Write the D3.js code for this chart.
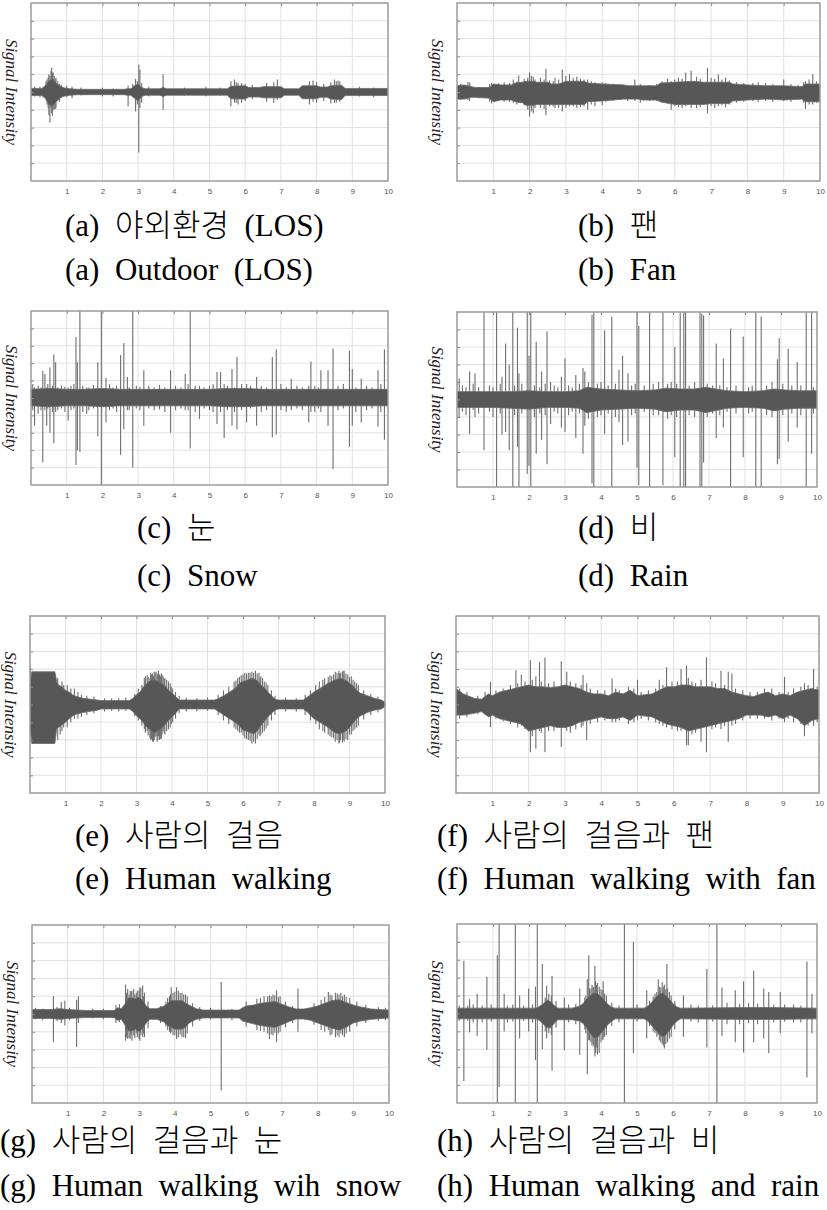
<!DOCTYPE html>
<html><head><meta charset="utf-8">
<script src="https://cdn.jsdelivr.net/npm/d3@7"></script>
<style>body{margin:0;background:#fff}svg{display:block}</style>
</head><body>
<script>
// ---------- tick labels ----------
const xTickValues = [1,2,3,4,5,6,7,8,9,10];
const xGridValues = [1,2,3,4,5,6,7,8,9];
const yGridValues = [-4,-3,-2,-1,0,1,2,3,4];
const yAxisTitle = "Signal Intensity";

// ---------- (a) Outdoor ----------
const aT  = [0,0.3,0.4,0.5,0.6,0.7,0.8,0.9,1.0,1.3,2.6,2.7,2.8,2.9,3.0,3.1,3.2,3.6,3.7,3.8,5.5,5.6,6.0,6.1,6.4,6.5,7.0,7.1,7.5,7.6,8.0,8.1,8.3,8.4,8.7,8.8,10];
const aHi = [0.2,0.2,0.35,0.6,0.75,0.5,0.35,0.25,0.2,0.15,0.15,0.18,0.18,0.35,0.45,0.25,0.18,0.18,0.25,0.18,0.18,0.32,0.35,0.25,0.25,0.3,0.3,0.18,0.18,0.35,0.35,0.28,0.28,0.35,0.38,0.2,0.2];
const aLo = [-0.2,-0.2,-0.35,-0.7,-0.8,-0.55,-0.35,-0.25,-0.2,-0.15,-0.15,-0.18,-0.18,-0.35,-0.5,-0.25,-0.18,-0.18,-0.25,-0.18,-0.18,-0.38,-0.4,-0.28,-0.28,-0.33,-0.33,-0.18,-0.18,-0.38,-0.38,-0.3,-0.3,-0.4,-0.42,-0.2,-0.2];
const aSpikes = [[0.1,0.3,-0.25],[0.25,0.3,-0.3],[0.42,0.6,-0.4],[0.45,0.7,-0.7],[0.48,0.8,-0.9],[0.5,1.0,-1.3],[0.53,0.9,-1.72],[0.56,1.2,-0.9],[0.58,1.36,-1.2],[0.6,1.1,-1.35],[0.62,1.1,-1.0],[0.65,0.9,-1.0],[0.68,0.75,-0.95],[0.7,0.8,-0.9],[0.75,0.6,-0.5],[0.8,0.45,-0.55],[0.85,0.4,-0.3],[1.0,0.35,-0.3],[1.15,0.3,-0.35],[1.4,0.25,-0.2],[2.0,0.25,-0.25],[2.3,0.2,-0.25],[2.72,0.35,-0.8],[2.85,0.45,-0.3],[2.93,0.75,-1.1],[2.98,0.6,-0.7],[3.02,1.55,-3.4],[3.05,1.27,-0.9],[3.1,0.5,-0.6],[3.3,0.3,-0.25],[3.7,1.0,-1.0],[4.3,0.25,-0.2],[4.9,0.3,-0.25],[5.3,0.25,-0.2],[5.6,0.6,-0.8],[5.7,0.7,-0.6],[5.75,0.55,-0.6],[5.8,0.5,-0.7],[5.9,0.5,-0.6],[6.0,0.45,-0.5],[6.2,0.4,-0.4],[6.6,0.5,-0.55],[6.8,0.55,-0.6],[6.9,0.7,-0.45],[7.8,0.6,-0.7],[7.9,0.65,-0.55],[8.0,0.55,-0.6],[8.2,0.45,-0.5],[8.4,0.55,-0.65],[8.5,0.7,-0.6],[8.55,0.6,-0.6],[8.6,0.65,-0.45],[8.65,0.6,-0.55],[9.2,0.3,-0.25],[9.6,0.25,-0.3]];

// ---------- (b) Fan ----------
const bT  = [0,0.2,0.4,0.5,0.9,1.0,1.2,1.5,1.6,1.8,1.9,2.1,2.2,2.5,2.6,2.8,3.0,3.5,3.6,4.0,4.6,4.7,5.0,5.1,5.5,5.6,6.0,6.5,6.8,7.0,7.5,7.6,8.0,8.5,9.0,9.5,9.6,10];
const bHi = [0.35,0.4,0.3,0.25,0.25,0.45,0.4,0.4,0.5,0.55,0.6,0.6,0.55,0.55,0.45,0.45,0.6,0.6,0.5,0.45,0.4,0.35,0.35,0.35,0.35,0.5,0.55,0.6,0.55,0.55,0.55,0.45,0.4,0.35,0.35,0.3,0.45,0.45];
const bLo = [-0.4,-0.4,-0.3,-0.3,-0.35,-0.55,-0.45,-0.45,-0.55,-0.6,-0.75,-0.75,-0.7,-0.7,-0.7,-0.7,-0.7,-0.7,-0.55,-0.5,-0.4,-0.4,-0.4,-0.45,-0.45,-0.55,-0.7,-0.7,-0.7,-0.65,-0.65,-0.5,-0.45,-0.4,-0.45,-0.4,-0.55,-0.55];
const bSpikes = [[0.1,0.45,-0.45],[0.3,0.56,-0.45],[0.35,0.55,-0.5],[0.6,0.3,-0.35],[0.9,0.45,-0.55],[0.95,0.5,-0.65],[1.15,0.5,-0.5],[1.3,0.55,-0.55],[1.45,0.5,-0.55],[1.55,0.7,-0.6],[1.65,0.6,-0.7],[1.7,0.93,-0.6],[1.85,0.75,-0.75],[1.95,0.8,-1.0],[2.0,1.1,-1.37],[2.05,0.9,-1.1],[2.1,0.85,-1.2],[2.15,0.7,-0.9],[2.3,0.8,-0.9],[2.4,0.7,-0.95],[2.45,1.3,-1.3],[2.55,0.65,-0.8],[2.65,0.6,-0.8],[2.7,0.8,-0.9],[2.8,0.7,-0.9],[2.9,1.27,-1.1],[3.0,0.9,-0.9],[3.1,1.0,-0.8],[3.2,0.8,-0.8],[3.3,0.85,-0.9],[3.4,0.75,-0.85],[3.5,0.7,-0.8],[3.6,0.7,-1.0],[3.7,0.6,-0.7],[3.8,0.55,-0.8],[4.0,0.55,-0.75],[4.1,0.5,-0.55],[4.3,0.45,-0.5],[4.5,0.45,-0.45],[4.7,0.4,-0.5],[4.9,0.7,-0.5],[5.05,0.45,-0.6],[5.3,0.4,-0.5],[5.5,0.45,-0.5],[5.65,0.6,-0.6],[5.8,0.75,-0.65],[5.9,0.6,-1.0],[6.0,0.7,-0.8],[6.1,0.8,-0.85],[6.2,0.75,-0.9],[6.3,1.1,-0.8],[6.45,1.2,-0.9],[6.6,0.85,-0.9],[6.7,0.75,-0.85],[6.9,1.35,-1.2],[7.0,0.8,-0.8],[7.1,0.75,-0.9],[7.2,1.0,-0.8],[7.3,0.7,-0.75],[7.4,0.8,-0.85],[7.5,0.65,-0.7],[7.7,0.55,-0.6],[7.9,0.5,-0.55],[8.15,0.5,-0.5],[8.3,0.55,-0.55],[8.5,0.5,-0.5],[8.7,0.45,-0.55],[9.0,0.7,-0.5],[9.2,0.45,-0.55],[9.4,0.4,-0.45],[9.55,0.55,-0.6],[9.6,0.6,-0.95],[9.7,0.7,-0.7],[9.8,1.0,-0.7],[9.9,0.6,-0.6]];

// ---------- (c) Snow ----------
const cT  = [0,0.5,1,1.5,2,2.5,3,3.5,4,4.5,5,5.5,6,6.5,7,7.5,8,8.5,9,9.5,10];
const cHi = [0.5,0.55,0.5,0.5,0.55,0.5,0.5,0.5,0.5,0.5,0.5,0.55,0.55,0.5,0.5,0.5,0.5,0.5,0.5,0.5,0.5];
const cLo = [-0.45,-0.5,-0.45,-0.45,-0.5,-0.45,-0.45,-0.45,-0.45,-0.45,-0.45,-0.5,-0.5,-0.45,-0.45,-0.45,-0.45,-0.45,-0.45,-0.45,-0.45];
const cSpikes = [[0.05,0.8,-0.7],[0.1,0.6,-1.6],[0.2,0.7,-0.9],[0.28,0.6,-0.7],[0.33,1.57,-3.7],[0.39,1.38,-0.7],[0.44,0.6,-1.6],[0.47,0.8,-0.6],[0.53,1.76,-2.0],[0.6,0.7,-0.8],[0.64,2.5,-2.6],[0.69,2.05,-0.8],[0.75,0.6,-0.7],[0.85,0.7,-0.6],[0.95,0.65,-0.8],[1.04,0.6,-1.3],[1.12,0.7,-0.7],[1.2,0.8,-0.6],[1.26,3.5,-3.85],[1.3,2.05,-3.0],[1.37,5.0,-3.1],[1.45,0.7,-0.8],[1.56,0.6,-0.9],[1.62,0.6,-0.7],[1.75,0.75,-0.6],[1.87,2.05,-2.2],[1.97,5.0,-5.0],[2.1,1.15,-1.4],[2.2,0.8,-0.7],[2.3,0.6,-0.6],[2.4,0.7,-0.8],[2.51,2.47,-3.26],[2.6,3.16,-1.8],[2.7,1.2,-0.7],[2.75,0.6,-0.7],[2.85,5.0,-4.0],[2.95,0.7,-0.6],[3.05,0.65,-0.7],[3.16,1.6,-1.6],[3.3,0.7,-0.6],[3.45,0.6,-0.7],[3.6,0.75,-0.65],[3.75,0.6,-0.8],[3.91,1.6,-2.0],[4.05,0.7,-0.7],[4.2,0.6,-0.6],[4.32,1.38,-0.7],[4.4,0.8,-0.7],[4.46,5.0,-2.9],[4.6,0.7,-0.8],[4.72,0.7,-1.2],[4.85,0.6,-0.6],[5.0,0.7,-0.7],[5.1,0.8,-0.8],[5.21,1.5,-1.5],[5.31,1.5,-0.8],[5.41,0.8,-2.3],[5.5,0.7,-0.7],[5.63,1.66,-1.6],[5.7,0.6,-0.8],[5.77,2.36,-1.8],[5.9,0.8,-0.7],[6.04,0.8,-1.4],[6.15,0.7,-0.6],[6.32,1.2,-1.6],[6.45,0.7,-0.8],[6.6,0.6,-0.7],[6.76,2.36,-2.26],[6.87,2.8,-2.1],[7.0,0.8,-0.7],[7.15,0.6,-0.8],[7.29,1.1,-0.7],[7.45,0.7,-0.6],[7.6,0.6,-0.7],[7.78,0.7,-1.4],[7.84,2.1,-0.8],[7.95,0.7,-0.8],[8.05,0.6,-0.6],[8.12,1.6,-0.8],[8.32,1.6,-1.6],[8.46,2.85,-4.1],[8.6,0.7,-0.7],[8.75,0.8,-0.6],[8.92,2.7,-2.8],[9.0,1.66,-1.6],[9.1,0.6,-0.8],[9.25,1.1,-1.4],[9.4,0.7,-0.7],[9.55,0.6,-0.6],[9.72,1.6,-1.65],[9.8,0.8,-0.8],[9.9,2.8,-2.4]];

// ---------- (d) Rain ----------
const dT  = [0,0.5,1,1.5,2,2.5,3,3.4,3.6,4,4.5,5,5.5,5.8,6.2,6.6,6.9,7.5,8,8.5,8.8,9.1,9.5,10];
const dHi = [0.45,0.45,0.45,0.45,0.5,0.45,0.45,0.5,0.7,0.6,0.55,0.5,0.55,0.65,0.6,0.6,0.7,0.5,0.45,0.5,0.6,0.55,0.5,0.5];
const dLo = [-0.45,-0.45,-0.45,-0.5,-0.55,-0.45,-0.45,-0.5,-0.75,-0.6,-0.55,-0.5,-0.55,-0.7,-0.6,-0.6,-0.75,-0.5,-0.45,-0.5,-0.65,-0.55,-0.5,-0.5];
const dSpikes = [[0.06,1.2,-1.0],[0.15,0.8,-0.7],[0.25,0.7,-0.9],[0.35,1.6,-1.95],[0.45,0.9,-0.6],[0.5,1.5,-1.0],[0.6,0.7,-0.8],[0.75,5,-2.9],[0.9,0.8,-0.7],[1.0,0.7,-1.0],[1.1,5,-5],[1.2,0.9,-0.8],[1.25,1.3,-2.0],[1.35,3.2,-1.85],[1.45,2,-2.9],[1.55,5,-5],[1.6,0.8,-0.9],[1.68,4.1,-2.7],[1.72,1.5,-5],[1.8,0.9,-0.8],[1.95,5,-4.25],[2.0,2.5,-3.8],[2.05,5,-5],[2.15,0.8,-1.0],[2.2,3.3,-3.1],[2.3,0.7,-0.8],[2.35,1.6,-2.3],[2.45,0.9,-0.9],[2.5,3.9,-3.7],[2.6,1.0,-1.4],[2.7,0.8,-0.7],[2.8,0.7,-0.8],[2.9,1.3,-1.6],[3.0,2.35,-1.85],[3.1,0.8,-0.9],[3.2,0.7,-0.7],[3.3,1.4,-2.2],[3.4,0.9,-0.8],[3.5,1.8,-3.1],[3.55,1.6,-1.5],[3.65,1.0,-1.1],[3.75,4.85,-4.8],[3.8,5,-5],[3.9,0.9,-1.0],[4.0,1.0,-0.9],[4.1,3.95,-1.95],[4.2,0.8,-0.8],[4.3,4.75,-5],[4.4,0.9,-1.0],[4.5,1.7,-1.3],[4.6,2.5,-2.6],[4.75,1.5,-2.4],[4.85,0.8,-0.9],[4.95,0.9,-0.8],[5.0,5,-3.9],[5.05,4.2,-4.9],[5.2,0.8,-0.7],[5.35,5,-5],[5.45,0.9,-0.9],[5.6,1.0,-0.9],[5.72,5,-4.9],[5.85,0.9,-1.1],[5.95,1.0,-0.9],[6.05,3.0,-3.3],[6.1,0.9,-1.0],[6.2,5,-5],[6.3,5,-5],[6.35,5,-5],[6.45,0.8,-0.9],[6.6,1.0,-1.0],[6.75,5,-5],[6.8,4.9,-5],[6.85,4.8,-3.6],[6.95,0.9,-1.0],[7.1,0.8,-0.8],[7.2,3.2,-2.2],[7.3,0.8,-0.9],[7.4,2.35,-1.6],[7.5,0.7,-0.7],[7.6,4.05,-5],[7.75,0.8,-0.8],[7.95,3.6,-3.3],[8.1,0.7,-0.8],[8.2,0.8,-0.7],[8.3,5,-5],[8.45,4.75,-5],[8.6,0.8,-0.9],[8.75,1.0,-1.0],[8.9,2.3,-3.7],[8.95,3.5,-3.4],[9.05,0.9,-0.9],[9.2,2.9,-2.4],[9.3,0.8,-0.8],[9.45,2.15,-1.6],[9.55,0.8,-0.9],[9.7,5,-5],[9.85,5,-3.1],[9.9,0.7,-0.8]];

// ---------- (e) Human walking ----------
const eT  = [0,0.05,0.7,0.75,0.8,0.9,1.0,1.1,1.2,1.3,1.5,1.7,1.9,2.0,2.8,2.9,3.0,3.1,3.2,3.3,3.4,3.5,3.6,3.7,3.8,3.9,4.0,4.1,4.2,5.2,5.3,5.5,5.7,5.8,5.9,6.0,6.1,6.2,6.3,6.4,6.5,6.6,6.7,6.8,6.9,7.0,7.7,7.8,8.0,8.2,8.4,8.5,8.6,8.7,8.8,8.9,9.0,9.1,9.2,9.3,9.5,9.7,9.9,10];
const eHi = [1.2,1.85,1.85,1.3,1.1,1.0,0.8,0.7,0.55,0.45,0.35,0.3,0.25,0.22,0.22,0.35,0.55,0.7,1.0,1.2,1.35,1.4,1.3,1.2,1.05,0.8,0.65,0.45,0.25,0.25,0.32,0.55,0.8,0.95,1.2,1.3,1.35,1.45,1.45,1.35,1.1,0.95,0.7,0.5,0.3,0.25,0.25,0.4,0.7,0.95,1.2,1.3,1.4,1.45,1.45,1.35,1.2,1.05,0.8,0.65,0.5,0.35,0.25,0.12];
const eLo = [-1.2,-2.2,-2.2,-1.35,-1.3,-1.15,-1.0,-0.8,-0.65,-0.55,-0.45,-0.38,-0.32,-0.25,-0.25,-0.4,-0.65,-0.8,-1.05,-1.3,-1.45,-1.6,-1.5,-1.35,-1.15,-0.9,-0.7,-0.5,-0.25,-0.25,-0.38,-0.65,-0.9,-1.05,-1.2,-1.45,-1.5,-1.6,-1.65,-1.5,-1.2,-0.95,-0.7,-0.5,-0.32,-0.25,-0.25,-0.4,-0.8,-1.05,-1.3,-1.45,-1.6,-1.65,-1.6,-1.5,-1.3,-1.05,-0.8,-0.65,-0.45,-0.32,-0.25,-0.12];
const eSpikes = [[0.01,2.13,-1.26],[0.72,1.6,-1.8],[0.78,1.5,-2.0],[0.85,1.0,-1.7],[0.9,1.3,-1.5],[0.95,1.1,-1.3],[1.05,1.1,-1.3],[1.15,0.9,-1.0],[1.25,0.9,-0.8],[1.35,0.7,-0.8],[1.45,0.55,-0.7],[1.6,0.5,-0.6],[1.8,0.45,-0.5],[2.1,0.35,-0.4],[2.3,0.35,-0.35],[2.5,0.35,-0.4],[2.7,0.4,-0.35],[2.95,0.6,-0.65],[3.05,0.9,-0.9],[3.15,1.1,-1.2],[3.22,1.5,-1.4],[3.25,1.6,-1.6],[3.3,1.65,-1.5],[3.33,1.55,-1.75],[3.38,1.5,-1.9],[3.4,1.8,-2.0],[3.42,1.7,-1.95],[3.45,1.75,-2.1],[3.48,1.6,-2.1],[3.5,1.85,-2.0],[3.52,1.8,-1.85],[3.55,1.85,-1.8],[3.58,1.7,-2.1],[3.6,1.75,-2.0],[3.62,1.9,-1.8],[3.65,1.7,-2.0],[3.68,1.6,-1.95],[3.7,1.75,-1.9],[3.72,1.7,-1.7],[3.75,1.6,-1.5],[3.78,1.45,-1.6],[3.8,1.5,-1.7],[3.85,1.4,-1.5],[3.9,1.3,-1.4],[3.95,1.2,-1.3],[3.98,1.0,-1.1],[4.02,0.9,-1.0],[4.1,0.7,-0.8],[4.2,0.5,-0.5],[4.4,0.4,-0.4],[4.7,0.35,-0.4],[5.0,0.4,-0.35],[5.3,0.55,-0.6],[5.45,0.8,-0.9],[5.6,1.0,-1.1],[5.75,1.3,-1.3],[5.8,1.35,-1.4],[5.85,1.5,-1.5],[5.9,1.55,-1.6],[5.95,1.65,-1.6],[6.0,1.7,-1.75],[6.05,1.8,-1.9],[6.1,1.75,-1.95],[6.15,1.8,-2.0],[6.2,1.8,-2.05],[6.25,1.85,-2.2],[6.3,1.8,-2.1],[6.35,1.9,-2.2],[6.4,1.75,-1.95],[6.45,1.8,-1.7],[6.48,1.5,-1.8],[6.5,1.6,-1.7],[6.55,1.5,-1.6],[6.6,1.3,-1.5],[6.65,1.25,-1.35],[6.7,1.1,-1.2],[6.8,0.8,-0.9],[6.9,0.5,-0.6],[7.2,0.4,-0.4],[7.5,0.35,-0.4],[7.75,0.55,-0.6],[7.9,0.8,-0.9],[8.05,1.1,-1.1],[8.15,1.3,-1.4],[8.25,1.4,-1.5],[8.3,1.5,-1.6],[8.4,1.55,-1.7],[8.45,1.65,-1.8],[8.5,1.6,-1.85],[8.55,1.7,-1.9],[8.6,1.85,-2.1],[8.65,1.8,-2.0],[8.7,1.9,-2.2],[8.72,1.75,-2.15],[8.75,1.8,-2.0],[8.8,1.85,-2.15],[8.82,1.9,-2.0],[8.85,1.9,-2.1],[8.9,1.75,-1.95],[8.95,1.7,-2.0],[9.0,1.55,-1.7],[9.05,1.6,-1.7],[9.1,1.4,-1.5],[9.15,1.3,-1.4],[9.2,1.2,-1.3],[9.25,1.1,-1.2],[9.4,0.8,-0.85],[9.6,0.6,-0.6],[9.8,0.45,-0.45]];

// ---------- (f) Human walking with fan ----------
const fT  = [0,0.2,0.5,0.7,0.9,1.0,1.2,1.4,1.6,1.8,2.0,2.2,2.4,2.6,2.8,3.0,3.2,3.4,3.6,3.8,4.0,4.2,4.4,4.6,4.8,5.0,5.2,5.4,5.6,5.8,6.0,6.2,6.4,6.6,6.8,7.0,7.2,7.4,7.6,7.8,8.0,8.2,8.4,8.6,8.8,9.0,9.2,9.4,9.6,9.8,10];
const fHi = [0.9,0.6,0.35,0.3,0.6,0.5,0.7,0.8,0.9,1.0,1.1,1.0,1.0,0.95,1.0,1.1,1.0,0.9,0.7,0.6,0.6,0.5,0.7,0.6,0.8,0.5,0.55,0.6,0.8,1.0,1.0,1.1,1.1,1.0,1.0,1.0,0.9,0.9,0.7,0.6,0.5,0.45,0.6,0.7,0.5,0.6,0.5,0.7,0.8,0.9,0.8];
const fLo = [-0.6,-0.6,-0.5,-0.4,-0.7,-0.6,-0.8,-0.9,-1.0,-1.1,-1.5,-1.4,-1.3,-1.2,-1.3,-1.3,-1.2,-1.0,-0.9,-0.8,-0.7,-0.8,-0.8,-0.7,-0.9,-0.6,-0.65,-0.7,-0.9,-1.1,-1.2,-1.3,-1.5,-1.4,-1.3,-1.2,-1.1,-1.0,-0.9,-0.8,-0.6,-0.6,-0.6,-0.7,-0.6,-0.8,-0.6,-0.8,-1.2,-0.9,-0.8];
const fSpikes = [[0.1,0.9,-0.8],[0.3,0.7,-0.7],[0.6,0.5,-0.55],[0.8,0.7,-0.6],[0.95,1.28,-1.27],[1.1,0.8,-0.8],[1.3,0.9,-0.95],[1.5,1.1,-1.1],[1.65,1.94,-1.0],[1.7,1.2,-1.3],[1.8,1.7,-1.2],[1.9,1.3,-1.4],[2.05,2.5,-2.7],[2.1,1.4,-1.8],[2.2,1.6,-2.5],[2.3,2.4,-1.5],[2.35,1.3,-1.6],[2.45,2.66,-2.7],[2.55,1.2,-1.5],[2.7,1.3,-1.5],[2.9,2.45,-2.4],[3.05,1.85,-1.5],[3.15,1.3,-1.6],[3.3,1.2,-1.4],[3.45,1.1,-1.3],[3.5,1.66,-1.2],[3.6,1.2,-2.0],[3.7,0.9,-1.1],[3.9,0.8,-1.0],[4.1,0.8,-0.9],[4.3,1.47,-1.0],[4.4,0.9,-1.0],[4.5,0.8,-0.9],[4.75,1.0,-1.1],[4.9,0.9,-1.0],[5.0,1.4,-0.9],[5.1,0.7,-0.8],[5.3,0.8,-0.9],[5.5,0.9,-1.0],[5.6,1.4,-1.1],[5.7,1.1,-1.2],[5.8,2.1,-1.3],[5.95,1.3,-1.4],[6.1,1.3,-1.5],[6.2,2.0,-1.5],[6.35,2.2,-2.3],[6.4,1.5,-2.3],[6.5,1.3,-1.7],[6.6,1.2,-1.6],[6.75,1.4,-2.1],[6.9,2.66,-2.7],[7.05,1.3,-1.4],[7.15,1.2,-1.3],[7.3,1.9,-1.4],[7.4,1.1,-1.2],[7.5,1.85,-2.1],[7.6,1.75,-1.2],[7.7,0.9,-1.1],[7.9,0.8,-0.9],[8.1,0.7,-0.8],[8.3,0.7,-0.8],[8.5,0.9,-0.8],[8.7,0.9,-0.9],[8.9,0.7,-0.8],[9.05,1.55,-1.0],[9.15,0.7,-0.8],[9.3,0.9,-1.0],[9.5,1.0,-1.1],[9.6,1.2,-1.8],[9.7,1.1,-1.2],[9.85,2.0,-1.2],[9.95,1.0,-1.0]];

// ---------- (g) Human walking with snow ----------
const gT  = [0,0.5,0.8,1.0,1.5,2.3,2.4,2.5,2.6,2.7,2.8,2.9,3.0,3.1,3.2,3.3,3.5,3.7,3.8,3.9,4.0,4.2,4.3,4.4,4.6,4.8,5.8,5.9,6.0,6.2,6.4,6.6,6.8,7.0,7.2,7.4,7.6,7.8,8.0,8.2,8.4,8.6,8.8,9.0,9.2,9.5,10];
const gHi = [0.25,0.25,0.3,0.25,0.2,0.2,0.35,0.3,0.55,0.9,0.9,0.85,0.95,0.75,0.45,0.3,0.3,0.45,0.6,0.75,0.75,0.75,0.6,0.5,0.3,0.22,0.22,0.35,0.45,0.5,0.6,0.65,0.7,0.55,0.4,0.28,0.28,0.35,0.45,0.6,0.75,0.8,0.65,0.5,0.4,0.28,0.22];
const gLo = [-0.25,-0.25,-0.3,-0.25,-0.2,-0.2,-0.35,-0.3,-0.6,-0.95,-0.95,-0.85,-1.0,-0.8,-0.5,-0.3,-0.3,-0.45,-0.65,-0.75,-0.85,-0.85,-0.75,-0.5,-0.3,-0.22,-0.22,-0.4,-0.45,-0.55,-0.65,-0.7,-0.75,-0.6,-0.42,-0.28,-0.28,-0.35,-0.5,-0.65,-0.8,-0.9,-0.75,-0.5,-0.4,-0.3,-0.22];
const gSpikes = [[0.1,0.35,-0.3],[0.3,0.3,-0.35],[0.6,1.0,-1.58],[0.7,0.4,-0.4],[0.82,0.67,-0.5],[0.92,0.75,-0.65],[1.05,0.35,-0.35],[1.25,0.8,-1.85],[1.3,1.0,-0.5],[1.7,0.3,-0.25],[2.0,0.3,-0.3],[2.35,0.5,-0.5],[2.45,0.55,-0.45],[2.62,1.65,-1.5],[2.65,1.2,-1.3],[2.68,1.4,-1.4],[2.72,1.1,-1.35],[2.75,1.3,-1.4],[2.78,1.25,-1.2],[2.8,1.3,-1.5],[2.85,1.4,-1.2],[2.88,1.1,-1.35],[2.92,1.2,-1.1],[2.95,1.3,-1.3],[3.0,1.3,-1.4],[3.02,1.5,-1.5],[3.05,1.45,-1.2],[3.1,1.6,-1.3],[3.12,1.0,-1.1],[3.15,1.2,-1.3],[3.25,0.7,-0.8],[3.6,0.45,-0.5],[3.75,0.7,-0.7],[3.8,0.9,-0.9],[3.85,1.0,-1.0],[3.88,1.1,-1.1],[3.9,1.5,-1.0],[3.95,1.2,-1.2],[4.0,1.25,-1.2],[4.05,1.5,-1.4],[4.1,1.3,-1.3],[4.15,1.2,-1.15],[4.2,1.2,-1.3],[4.25,1.1,-1.3],[4.3,1.1,-1.35],[4.35,1.0,-1.1],[4.5,0.6,-0.7],[4.7,0.4,-0.4],[5.0,0.35,-0.3],[5.3,1.8,-4.3],[5.6,0.3,-0.35],[6.0,0.7,-0.7],[6.3,0.85,-0.9],[6.4,0.9,-0.95],[6.5,1.0,-1.0],[6.6,1.0,-1.1],[6.65,1.05,-1.4],[6.7,1.0,-1.15],[6.75,1.1,-1.2],[6.8,1.05,-1.05],[6.85,1.33,-1.58],[6.9,0.95,-1.1],[6.95,1.0,-1.0],[7.1,0.7,-0.75],[7.3,0.45,-0.5],[7.45,1.43,-1.0],[7.9,0.6,-0.6],[8.1,0.8,-0.9],[8.2,0.95,-1.0],[8.3,1.24,-0.9],[8.35,1.1,-1.2],[8.4,1.05,-1.15],[8.5,1.2,-1.3],[8.55,1.15,-1.2],[8.6,1.1,-1.3],[8.65,1.2,-1.1],[8.7,1.0,-1.2],[8.75,1.1,-1.3],[8.8,0.95,-1.1],[8.9,0.9,-1.0],[9.1,0.7,-0.7],[9.35,0.5,-0.5],[9.7,0.4,-0.4],[9.9,0.35,-0.35]];

// ---------- (h) Human walking and rain ----------
const hT  = [0,2.2,2.3,2.4,2.5,2.6,2.7,2.8,3.2,3.4,3.5,3.6,3.7,3.8,3.9,4.0,4.1,4.2,4.3,4.4,5.2,5.3,5.4,5.5,5.6,5.7,5.8,5.9,6.0,6.1,6.2,8.0,8.8,10];
const hHi = [0.3,0.3,0.4,0.55,0.75,0.65,0.45,0.3,0.3,0.4,0.55,0.8,1.0,1.15,1.1,0.95,0.7,0.5,0.35,0.3,0.3,0.4,0.6,0.85,1.05,1.15,1.0,0.8,0.55,0.38,0.3,0.33,0.33,0.3];
const hLo = [-0.3,-0.3,-0.4,-0.6,-0.8,-0.8,-0.55,-0.35,-0.35,-0.42,-0.55,-0.8,-1.1,-1.35,-1.35,-1.1,-0.85,-0.6,-0.42,-0.3,-0.3,-0.42,-0.65,-0.9,-1.1,-1.3,-1.2,-0.95,-0.65,-0.45,-0.3,-0.33,-0.33,-0.3];
const hSpikes = [[0.06,0.43,-0.4],[0.19,2.95,-3.77],[0.3,0.45,-0.4],[0.35,0.8,-1.06],[0.45,0.5,-0.5],[0.56,1.1,-1.25],[0.7,0.45,-0.5],[0.83,2.05,-2.03],[0.95,0.5,-0.45],[1.12,3.26,-5],[1.17,5,-4.1],[1.31,1.1,-1.0],[1.4,0.45,-0.5],[1.55,0.5,-0.45],[1.62,5,-5],[1.74,1.0,-1.4],[1.85,0.45,-0.4],[1.99,1.4,-1.0],[2.1,0.5,-0.5],[2.18,1.5,-2.6],[2.23,5,-5],[2.37,2.76,-2.0],[2.45,0.9,-1.0],[2.49,1.55,-1.4],[2.55,1.1,-1.1],[2.62,1.0,-1.2],[2.64,2.1,-3.2],[2.75,0.7,-0.8],[2.98,0.9,-2.05],[3.1,0.5,-0.5],[3.3,0.55,-0.6],[3.41,1.4,-2.3],[3.55,0.9,-0.9],[3.58,1.0,-1.1],[3.62,1.92,-3.4],[3.66,3.26,-1.5],[3.68,1.4,-1.5],[3.72,1.4,-1.6],[3.75,1.6,-1.8],[3.78,1.5,-1.7],[3.8,1.45,-1.85],[3.83,2.67,-2.4],[3.85,1.8,-2.2],[3.88,1.6,-1.9],[3.9,1.7,-2.3],[3.95,1.5,-2.2],[4.0,1.35,-1.6],[4.05,1.3,-1.5],[4.06,1.8,-1.4],[4.1,1.1,-1.3],[4.15,1.0,-1.2],[4.3,0.6,-0.7],[4.5,0.45,-0.5],[4.65,5,-5],[4.9,4.0,-2.2],[5.0,0.5,-0.45],[5.27,1.3,-1.4],[5.35,0.7,-0.7],[5.45,0.95,-1.0],[5.5,1.1,-1.1],[5.55,1.2,-1.3],[5.59,1.92,-1.2],[5.62,1.5,-1.5],[5.66,1.45,-1.6],[5.7,1.75,-1.7],[5.73,1.5,-1.8],[5.76,1.6,-1.95],[5.8,1.35,-1.7],[5.83,2.76,-1.1],[5.85,1.4,-1.6],[5.9,1.2,-1.4],[5.95,1.0,-1.3],[6.05,0.7,-0.9],[6.29,1.0,-1.3],[6.5,0.5,-0.45],[6.7,0.45,-0.5],[6.94,2.48,-1.9],[7.1,0.45,-0.45],[7.22,5,-5],[7.36,1.45,-1.25],[7.5,0.6,-0.6],[7.73,1.3,-1.6],[7.85,0.55,-0.6],[7.96,1.8,-2.18],[8.1,0.6,-0.55],[8.24,2.39,-1.6],[8.35,0.55,-0.6],[8.52,1.4,-1.4],[8.66,1.2,-2.2],[8.8,0.5,-0.5],[8.98,1.2,-1.1],[9.1,0.5,-0.45],[9.35,0.5,-0.5],[9.55,0.45,-0.5],[9.72,2.9,-3.58],[9.86,1.1,-1.1]];

// ---------- captions ----------
const captionsKo = ["(a)  야외환경  (LOS)","(b)  팬","(c)  눈","(d)  비","(e)  사람의  걸음","(f)  사람의  걸음과  팬","(g)  사람의  걸음과  눈","(h)  사람의  걸음과  비"];
const captionsEn = ["(a)  Outdoor  (LOS)","(b)  Fan","(c)  Snow","(d)  Rain","(e)  Human  walking","(f)  Human  walking  with  fan","(g)  Human  walking  wih  snow","(h)  Human  walking  and  rain"];

// ---------- layout (positions only) ----------
const layout = [
  {x0:31, x1:388, y0:3,   y1:181,  cx:65,  cy1:236,  cy2:280},
  {x0:457,x1:820, y0:3,   y1:181,  cx:578, cy1:236,  cy2:280},
  {x0:31, x1:388, y0:311, y1:485,  cx:137, cy1:538,  cy2:586},
  {x0:457,x1:817, y0:312, y1:487,  cx:578, cy1:538,  cy2:586},
  {x0:30, x1:385, y0:616, y1:793,  cx:75,  cy1:846,  cy2:889},
  {x0:456,x1:819, y0:616, y1:793,  cx:437, cy1:846,  cy2:889},
  {x0:32, x1:389, y0:925, y1:1103, cx:0,   cy1:1151, cy2:1196},
  {x0:457,x1:817, y0:924, y1:1103, cx:437, cy1:1151, cy2:1196}
];
const series = [
  {T:aT,Hi:aHi,Lo:aLo,S:aSpikes},{T:bT,Hi:bHi,Lo:bLo,S:bSpikes},
  {T:cT,Hi:cHi,Lo:cLo,S:cSpikes},{T:dT,Hi:dHi,Lo:dLo,S:dSpikes},
  {T:eT,Hi:eHi,Lo:eLo,S:eSpikes},{T:fT,Hi:fHi,Lo:fLo,S:fSpikes},
  {T:gT,Hi:gHi,Lo:gLo,S:gSpikes},{T:hT,Hi:hHi,Lo:hLo,S:hSpikes}
];

const svg = d3.select("body").append("svg").attr("width",827).attr("height",1210);
const defs = svg.append("defs");

layout.forEach((L,i)=>{
  const s = series[i];
  const x = d3.scaleLinear().domain([0,10]).range([L.x0,L.x1]);
  const y = d3.scaleLinear().domain([-5,5]).range([L.y1,L.y0]);
  const g = svg.append("g");
  defs.append("clipPath").attr("id","clip"+i).append("rect")
    .attr("x",L.x0).attr("y",L.y0).attr("width",L.x1-L.x0).attr("height",L.y1-L.y0);

  // grid
  g.selectAll(".vg").data(xGridValues).join("line")
    .attr("x1",d=>x(d)).attr("x2",d=>x(d)).attr("y1",L.y0).attr("y2",L.y1)
    .attr("stroke","#e2e2e2").attr("stroke-width",1);
  g.selectAll(".hg").data(yGridValues).join("line")
    .attr("x1",L.x0).attr("x2",L.x1).attr("y1",d=>y(d)).attr("y2",d=>y(d))
    .attr("stroke","#e2e2e2").attr("stroke-width",1);

  const plot = g.append("g").attr("clip-path","url(#clip"+i+")");
  // spikes
  plot.selectAll("line.sp").data(s.S).join("line")
    .attr("x1",d=>x(d[0])).attr("x2",d=>x(d[0]))
    .attr("y1",d=>y(d[1])).attr("y2",d=>y(d[2]))
    .attr("stroke","#6e6e6e").attr("stroke-width",1.1);
  // envelope (dense core)
  const env = s.T.map((t,k)=>({t:t,hi:s.Hi[k],lo:s.Lo[k]}));
  plot.append("path").datum(env)
    .attr("d", d3.area().x(d=>x(d.t)).y0(d=>y(d.lo)).y1(d=>y(d.hi)))
    .attr("fill","#575757").attr("stroke","#6a6a6a").attr("stroke-width",0.8);

  // axes ticks
  const ax = g.append("g").attr("transform","translate(0,"+L.y1+")")
    .call(d3.axisBottom(x).tickValues(xTickValues).tickSize(0).tickPadding(7).tickFormat(d3.format("d")));
  ax.select(".domain").remove();
  ax.selectAll("text").attr("font-size",8).attr("font-family","'Liberation Sans',Arial,sans-serif").attr("fill","#555");
  const ay = g.append("g").attr("transform","translate("+L.x0+",0)")
    .call(d3.axisLeft(y).tickValues(yGridValues).tickSize(-3).tickFormat(""));
  ay.select(".domain").remove();
  ay.selectAll("line").attr("stroke","#888");
  const at = g.append("g").attr("transform","translate(0,"+L.y0+")")
    .call(d3.axisTop(x).tickValues(xGridValues).tickSize(-3).tickFormat(""));
  at.select(".domain").remove();
  at.selectAll("line").attr("stroke","#888");

  // box
  g.append("rect").attr("x",L.x0).attr("y",L.y0).attr("width",L.x1-L.x0).attr("height",L.y1-L.y0)
    .attr("fill","none").attr("stroke","#9a9a9a").attr("stroke-width",1.5);

  // y-axis title
  const tx = L.x0 - 20, ty = (L.y0+L.y1)/2;
  g.append("text").text(yAxisTitle)
    .attr("transform","translate("+tx+","+ty+") rotate(90)")
    .attr("text-anchor","middle").attr("dy","0.32em")
    .attr("font-family","'Liberation Serif','Times New Roman',serif")
    .attr("font-style","italic").attr("font-size",17).attr("fill","#222");

  // captions
  const capFont = "'Liberation Serif','Times New Roman','Noto Sans CJK KR',serif";
  [[captionsKo[i],L.cy1,300],[captionsEn[i],L.cy2,400]].forEach(([txt,cy,w])=>{
    svg.append("text").text(txt).attr("x",L.cx).attr("y",cy)
      .attr("font-family",capFont).attr("font-size",31).attr("font-weight",w).attr("fill","#000")
      .style("white-space","pre");
  });
});
</script>
</body></html>
